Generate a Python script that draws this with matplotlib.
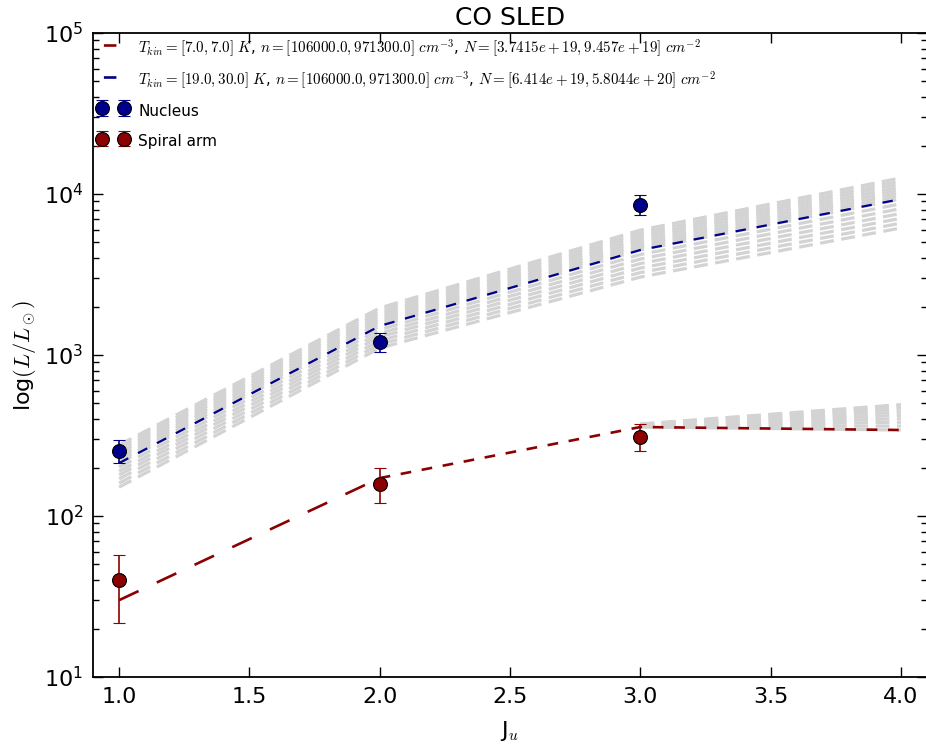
import matplotlib
matplotlib.use("Agg")
import matplotlib.pyplot as plt
from matplotlib.lines import Line2D

plt.rcParams['font.family'] = ['DejaVu Sans']
plt.rcParams['mathtext.fontset'] = 'cm'
plt.rcParams['lines.scale_dashes'] = False
plt.rcParams['xtick.direction'] = 'in'
plt.rcParams['ytick.direction'] = 'in'
plt.rcParams['xtick.top'] = True
plt.rcParams['ytick.right'] = True

# ---------------- data ----------------
J_model = [1, 2, 3, 4]
J_obs = [1, 2, 3]

nucleus = [253, 1205, 8550]
nucleus_lo = [213, 1040, 7400]
nucleus_hi = [295, 1370, 9850]

spiral = [40, 158, 310]
spiral_lo = [21.6, 120, 253]
spiral_hi = [57, 199, 372]

fit_nucleus = [213, 1514, 4490, 9300]
fit_spiral = [30, 172, 357, 342]

grid_nucleus = [
    [276, 1959, 5970, 12589],
    [266, 1888, 5728, 12050],
    [256, 1820, 5508, 11561],
    [247, 1754, 5284, 11066],
    [238, 1690, 5070, 10593],
    [230, 1629, 4864, 10139],
    [221, 1570, 4677, 9727],
    [213, 1514, 4490, 9300],
    [201, 1436, 4207, 8690],
    [190, 1362, 3945, 8110],
    [180, 1294, 3698, 7568],
    [170, 1227, 3467, 7063],
    [160, 1164, 3251, 6592],
    [151, 1104, 3048, 6152],
]

grid_spiral = [
    [30, 172, 357, 342],
    [30, 172, 359, 362],
    [30, 172, 361, 382],
    [30, 172, 363, 402],
    [30, 172, 365, 422],
    [30, 172, 367, 442],
    [30, 172, 369, 462],
    [30, 172, 371, 480],
    [30, 172, 373, 492],
]

label_red = (r'$T_{kin}=[7.0,7.0]\ K$, $n=[106000.0,971300.0]\ cm^{-3}$, '
             r'$N=[3.7415e+19,9.457e+19]\ cm^{-2}$')
label_blue = (r'$T_{kin}=[19.0,30.0]\ K$, $n=[106000.0,971300.0]\ cm^{-3}$, '
              r'$N=[6.414e+19,5.8044e+20]\ cm^{-2}$')

RED = '#8b0000'
BLUE = '#00008b'
GRAY = '#d3d3d3'

# ---------------- figure ----------------
W, H = 926, 744
fig = plt.figure(figsize=(W / 100, H / 100), dpi=100)
ax = fig.add_axes([93 / W, (H - 677) / H, 834 / W, (677 - 33) / H])
ax.set_yscale('log')

for g in grid_nucleus:
    ax.plot(J_model, g, color=GRAY, lw=2.3, dashes=(10, 5.4), zorder=1)
for g in grid_spiral:
    ax.plot(J_model[2:], g[2:], color=GRAY, lw=2.3, dashes=(10, 5.4), zorder=1)

ax.plot(J_model[:2], fit_spiral[:2], color=RED, lw=1.9, dashes=(15.5, 14.5), zorder=2)
ax.plot(J_model[1:], fit_spiral[1:], color=RED, lw=1.9, dashes=(7.7, 7.7), zorder=2)
ax.plot(J_model, fit_nucleus, color=BLUE, lw=1.6, dashes=(7.5, 7.9), zorder=2)

nuc_err = [[v - l for v, l in zip(nucleus, nucleus_lo)],
           [h - v for v, h in zip(nucleus, nucleus_hi)]]
spi_err = [[v - l for v, l in zip(spiral, spiral_lo)],
           [h - v for v, h in zip(spiral, spiral_hi)]]

e1 = ax.errorbar(J_obs, nucleus, yerr=nuc_err, fmt='o', color=BLUE, mec='black',
                 mew=0.8, ms=10, capsize=4.5, elinewidth=1.2, capthick=1.2,
                 label='Nucleus', zorder=3)
e2 = ax.errorbar(J_obs, spiral, yerr=spi_err, fmt='o', color=RED, mec='black',
                 mew=0.8, ms=10, capsize=4.5, elinewidth=1.2, capthick=1.2,
                 label='Spiral arm', zorder=3)

ax.set_xlim(0.9, 4.1)
ax.set_ylim(10, 1e5)
ax.set_xticks([1.0, 1.5, 2.0, 2.5, 3.0, 3.5, 4.0])
ax.set_xticklabels(['1.0', '1.5', '2.0', '2.5', '3.0', '3.5', '4.0'])

ax.tick_params(which='major', length=7, width=1, labelsize=16, pad=7)
ax.tick_params(which='minor', length=4, width=1)
for s in ax.spines.values():
    s.set_linewidth(1.3)

ax.set_title('CO SLED', fontsize=18, pad=6)
ax.set_xlabel(r'J$_u$', fontsize=16, labelpad=9)
ax.set_ylabel(r'log$(L/L_\odot)$', fontsize=16)

h_red = Line2D([], [], color=RED, lw=1.9, dashes=(0.01, 1.0, 9, 40))
h_blue = Line2D([], [], color=BLUE, lw=1.9, dashes=(0.01, 1.0, 9, 40))

leg = ax.legend([h_red, h_blue, e1, e2],
                [label_red, label_blue, 'Nucleus', 'Spiral arm'],
                loc='upper left', frameon=False, numpoints=2, fontsize=11,
                labelspacing=0.63, handlelength=2.04, handleheight=1.75,
                handletextpad=0.62, borderaxespad=0.15, borderpad=0.15)
for t in leg.get_texts()[:2]:
    t.set_fontsize(10.8)

fig.savefig('out.png', dpi=100)
